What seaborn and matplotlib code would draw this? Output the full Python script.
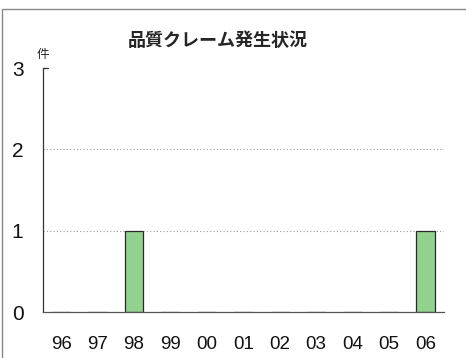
import matplotlib
matplotlib.use("Agg")
import matplotlib.pyplot as plt
import matplotlib.patches as mpatches
import pandas as pd
import seaborn as sns

years = ["96", "97", "98", "99", "00", "01", "02", "03", "04", "05", "06"]
claims = [0, 0, 1, 0, 0, 0, 0, 0, 0, 0, 1]
title = "品質クレーム発生状況"
unit = "件"

sns.set_style("white")
plt.rcParams["font.family"] = ["Liberation Sans", "Noto Sans CJK JP", "DejaVu Sans"]

df = pd.DataFrame({"year": years, "claims": claims})

fig = plt.figure(figsize=(4.66, 3.58), dpi=100)
ax = fig.add_axes([0.092, 0.128, 0.86, 0.682])

sns.barplot(data=df, x="year", y="claims", color="#93d18e", edgecolor="#2a2a2a",
            linewidth=0.9, width=0.5, saturation=1, ax=ax)

ax.set_ylim(0, 3)
ax.set_xlim(-0.5, len(years) - 0.5)
ax.set_yticks([0, 1, 2, 3])
ax.set_yticklabels(["0", "1", "2", "3"], fontsize=15)
ax.set_xticks(range(len(years)))
ax.set_xticklabels(years, fontsize=13.5)
ax.set_xlabel("")
ax.set_ylabel("")
ax.tick_params(axis="x", length=0, pad=17, colors="#111")
ax.tick_params(axis="y", length=0, pad=14, colors="#111")

# boundary ticks on the x axis
ax.set_xticks([i + 0.5 for i in range(len(years))], minor=True)
ax.tick_params(axis="x", which="minor", direction="in", length=4, color="#444", width=0.8)

for y in [1, 2]:
    ax.axhline(y, color="#999", linestyle=(0, (1, 2)), linewidth=0.8, zorder=0)

for s in ["top", "right"]:
    ax.spines[s].set_visible(False)
ax.spines["left"].set_color("#333")
ax.spines["left"].set_linewidth(0.9)
ax.spines["bottom"].set_color("#555")
ax.spines["bottom"].set_linewidth(0.9)
ax.plot([0, 0.012], [1, 1], transform=ax.transAxes, color="#333", lw=0.9, clip_on=False)

fig.text(0.467, 0.888, title, ha="center", va="center", fontsize=13, fontweight="bold",
         family=["Noto Sans CJK JP", "DejaVu Sans"])
fig.text(0.092, 0.849, unit, ha="center", va="center", fontsize=9,
         family=["Noto Sans CJK JP", "DejaVu Sans"])

fig.patches.append(mpatches.Rectangle((0.004, -0.01), 1.2, 0.985, transform=fig.transFigure,
                                      fill=False, edgecolor="#888", linewidth=1.0))

fig.savefig("out.png", dpi=100)
plt.close(fig)
